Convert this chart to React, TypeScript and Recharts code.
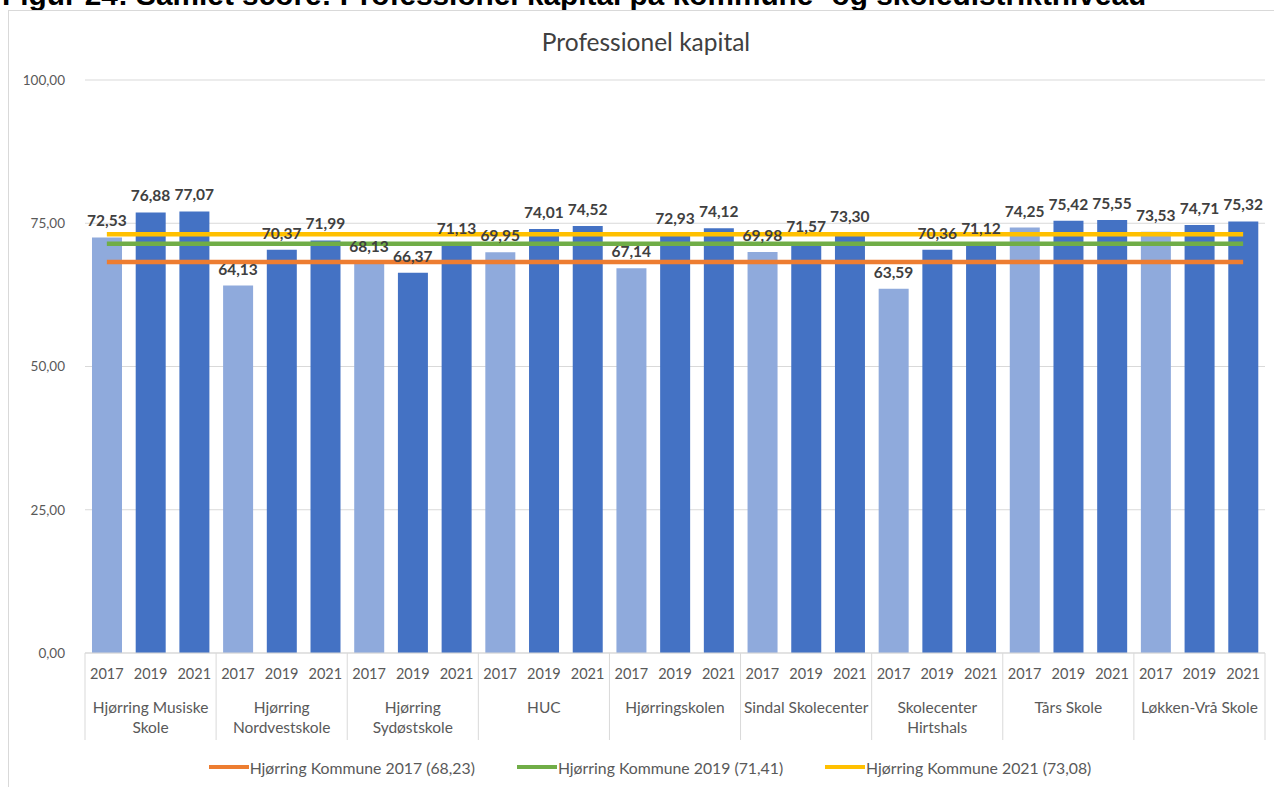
import React from "react";
import {
  ComposedChart,
  Bar,
  Line,
  Cell,
  XAxis,
  YAxis,
  CartesianGrid,
  LabelList,
  Legend,
} from "recharts";

const schools = [
  "Hjørring Musiske Skole",
  "Hjørring Nordvestskole",
  "Hjørring Sydøstskole",
  "HUC",
  "Hjørringskolen",
  "Sindal Skolecenter",
  "Skolecenter Hirtshals",
  "Tårs Skole",
  "Løkken-Vrå Skole",
];
const years = ["2017", "2019", "2021"];
const scores2017 = [72.53, 64.13, 68.13, 69.95, 67.14, 69.98, 63.59, 74.25, 73.53];
const scores2019 = [76.88, 70.37, 66.37, 74.01, 72.93, 71.57, 70.36, 75.42, 74.71];
const scores2021 = [77.07, 71.99, 71.13, 74.52, 74.12, 73.3, 71.12, 75.55, 75.32];
const kommuneNames = [
  "Hjørring Kommune 2017",
  "Hjørring Kommune 2019",
  "Hjørring Kommune 2021",
];
const kommuneValues = [68.23, 71.41, 73.08];
const yTicks = [0, 25, 50, 75, 100];

const barColors = ["#8FAADC", "#4472C4", "#4472C4"];
const lineColors = ["#ED7D31", "#70AD47", "#FFC000"];

const FONT = "Lato, 'Open Sans', sans-serif";
const CHART_W = 1266;
const CHART_H = 777;
const MARGIN = { top: 70, right: 9, bottom: 0, left: 17 };
const Y_W = 60;

const yearScores = [scores2017, scores2019, scores2021];
const rows = schools.flatMap((school, s) =>
  years.map((year, y) => ({
    key: `${school}|${year}`,
    school,
    year,
    yearIdx: y,
    score: yearScores[y][s],
    k2017: kommuneValues[0],
    k2019: kommuneValues[1],
    k2021: kommuneValues[2],
  }))
);

const BAND = (CHART_W - MARGIN.left - MARGIN.right - Y_W) / rows.length;

const fmt = (v: number) => v.toFixed(2).replace(".", ",");

// greedy wrap like Excel does for the category labels
function wrap(text: string, max = 18): string[] {
  const out: string[] = [];
  let cur = "";
  for (const w of text.split(" ")) {
    if (!cur) cur = w;
    else if ((cur + " " + w).length <= max) cur += " " + w;
    else {
      out.push(cur);
      cur = w;
    }
  }
  if (cur) out.push(cur);
  return out;
}

function CategoryTick(props: any) {
  const { x, y, index } = props;
  const row = rows[index];
  if (!row) return null;
  const grey = "#595959";
  const sep = "#d9d9d9";
  return (
    <g>
      <text x={x} y={y + 26} textAnchor="middle" fill={grey} fontSize={14.5} fontFamily={FONT}>
        {row.year}
      </text>
      {index % 3 === 1 &&
        wrap(row.school).map((line, i) => (
          <text
            key={i}
            x={x}
            y={y + 60 + i * 20}
            textAnchor="middle"
            fill={grey}
            fontSize={15.5}
            fontFamily={FONT}
          >
            {line}
          </text>
        ))}
      {index % 3 === 0 && (
        <line x1={x - BAND / 2} x2={x - BAND / 2} y1={y} y2={y + 87} stroke={sep} />
      )}
      {index === rows.length - 1 && (
        <line x1={x + BAND / 2} x2={x + BAND / 2} y1={y} y2={y + 87} stroke={sep} />
      )}
    </g>
  );
}

function LegendContent() {
  return (
    <div
      style={{
        display: "flex",
        justifyContent: "center",
        alignItems: "center",
        gap: 42,
        fontFamily: FONT,
        fontSize: 15.8,
        color: "#595959",
        height: 40,
        paddingLeft: 10,
      }}
    >
      {kommuneNames.map((name, i) => (
        <div key={name} style={{ display: "flex", alignItems: "center" }}>
          <span
            style={{
              display: "inline-block",
              width: 40,
              height: 4,
              background: lineColors[i],
              marginRight: 1,
            }}
          />
          <span>{`${name} (${fmt(kommuneValues[i])})`}</span>
        </div>
      ))}
    </div>
  );
}

export default function App() {
  return (
    <div
      style={{
        position: "fixed",
        left: 0,
        top: 0,
        width: 1274,
        height: 787,
        overflow: "hidden",
        background: "#fff",
      }}
    >
      <div
        style={{
          position: "absolute",
          left: 2,
          top: -20,
          fontFamily: "'Liberation Sans', Arial, sans-serif",
          fontWeight: "bold",
          fontSize: 29.8,
          lineHeight: "30px",
          whiteSpace: "nowrap",
          color: "#000",
        }}
      >
        Figur 24: Samlet score: Professionel kapital på kommune- og skoledistriktniveau
      </div>
      <div
        style={{
          position: "absolute",
          left: 8,
          top: 10,
          width: 1290,
          height: 800,
          border: "1px solid #d9d9d9",
          boxSizing: "border-box",
        }}
      />
      <div
        style={{
          position: "absolute",
          left: 8,
          top: 27,
          width: CHART_W,
          textAlign: "center",
          fontFamily: FONT,
          fontSize: 24.5,
          color: "#404040",
          paddingLeft: 10,
          boxSizing: "border-box",
        }}
      >
        Professionel kapital
      </div>
      <div style={{ position: "absolute", left: 8, top: 10 }}>
        <ComposedChart width={CHART_W} height={CHART_H} data={rows} margin={MARGIN} barCategoryGap="16%">
          <CartesianGrid vertical={false} stroke="#d9d9d9" />
          <XAxis
            dataKey="key"
            interval={0}
            tickLine={false}
            tickSize={0}
            tickMargin={0}
            height={94}
            axisLine={{ stroke: "#d9d9d9" }}
            tick={<CategoryTick />}
          />
          <YAxis
            width={Y_W}
            domain={[0, 100]}
            ticks={yTicks}
            axisLine={false}
            tickLine={false}
            tickMargin={14}
            tickFormatter={fmt}
            tick={{ fill: "#595959", fontSize: 13.5, fontFamily: FONT }}
          />
          <Bar dataKey="score" isAnimationActive={false} legendType="none">
            {rows.map((r) => (
              <Cell key={r.key} fill={barColors[r.yearIdx]} />
            ))}
          </Bar>
          {["k2017", "k2019", "k2021"].map((k, i) => (
            <Line
              key={k}
              dataKey={k}
              name={kommuneNames[i]}
              stroke={lineColors[i]}
              strokeWidth={4.5}
              dot={false}
              activeDot={false}
              isAnimationActive={false}
            />
          ))}
          <Line
            dataKey="score"
            stroke="none"
            dot={false}
            activeDot={false}
            legendType="none"
            isAnimationActive={false}
          >
            <LabelList
              dataKey="score"
              position="top"
              offset={11}
              formatter={(v: any) => fmt(Number(v))}
              fill="#404040"
              fontSize={15.5}
              fontWeight="bold"
              fontFamily={FONT}
            />
          </Line>
          <Legend verticalAlign="bottom" height={40} content={<LegendContent />} />
        </ComposedChart>
      </div>
    </div>
  );
}
